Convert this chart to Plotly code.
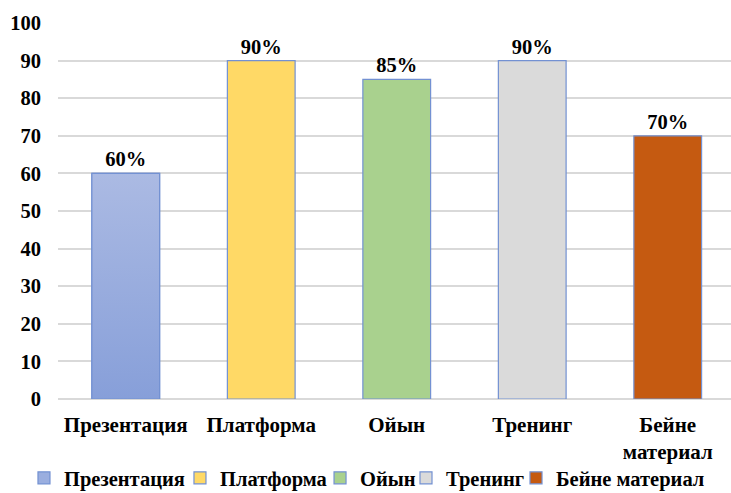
import plotly.graph_objects as go

categories = ["Презентация", "Платформа", "Ойын", "Тренинг", "Бейне материал"]
tick_labels = ["Презентация", "Платформа", "Ойын", "Тренинг", "Бейне<br>материал"]
values = [60, 90, 85, 90, 70]
colors = ["#9AAEDF", "#FFD966", "#A9D18E", "#DADADA", "#C55A11"]
# first column is shaded with a vertical gradient
gradient = [[0.0, "#879FD9"], [1.0, "#ABBAE3"]]
y_ticks = list(range(0, 101, 10))

FONT = "Liberation Serif"
OUTLINE = "#7391D2"
BAR_W = 0.5
# left edge (container fraction) of each one-entry legend
legend_x = [0.0328, 0.2462, 0.4378, 0.5554, 0.7059]

fig = go.Figure()
for i, (name, val, col) in enumerate(zip(categories, values, colors)):
    fig.add_trace(go.Bar(
        x=[i], y=[val], name=f"<b>{name}</b>",
        width=BAR_W,
        marker=dict(color=col, line=dict(color=OUTLINE, width=1.2)),
        texttemplate="<b>%{y}%</b>", textposition="outside",
        textfont=dict(family=FONT, size=20.5, color="#000000"),
        cliponaxis=False,
        legend="legend" if i == 0 else f"legend{i + 1}",
    ))

# gradient fill over the first column
x0 = 0
fig.add_trace(go.Scatter(
    x=[x0 - BAR_W / 2, x0 + BAR_W / 2, x0 + BAR_W / 2, x0 - BAR_W / 2, x0 - BAR_W / 2],
    y=[0, 0, values[0], values[0], 0],
    mode="lines", fill="toself",
    fillgradient=dict(type="vertical", colorscale=gradient),
    line=dict(color=OUTLINE, width=1.2),
    hoverinfo="skip", showlegend=False,
))

legends = {}
for i, lx in enumerate(legend_x):
    key = "legend" if i == 0 else f"legend{i + 1}"
    legends[key] = dict(
        orientation="h", xref="container", yref="container",
        x=lx, xanchor="left", y=1 - 478 / 493, yanchor="middle",
        font=dict(family=FONT, size=20.5, color="#000000"),
        itemwidth=30, bgcolor="rgba(0,0,0,0)",
    )

fig.update_layout(
    width=731, height=493,
    margin=dict(l=58, r=0, t=23, b=94, autoexpand=False),
    paper_bgcolor="white", plot_bgcolor="white",
    barmode="overlay",
    showlegend=True,
    font=dict(family=FONT, color="#000000"),
    **legends,
)
fig.update_xaxes(
    range=[-0.5, 4.467], tickvals=list(range(len(categories))),
    ticktext=[f"<b>{t}</b>" for t in tick_labels],
    tickfont=dict(family=FONT, size=21, color="#000000"),
    showgrid=False, zeroline=False, showline=False, ticks="", ticklabelstandoff=11,
)
fig.update_yaxes(
    range=[0, 100], tickvals=y_ticks,
    ticktext=[f"<b>{v}</b>" for v in y_ticks],
    tickfont=dict(family=FONT, size=20.5, color="#000000"),
    showgrid=True, gridcolor="#D9D9D9", gridwidth=1.5,
    zeroline=True, zerolinecolor="#D9D9D9", zerolinewidth=1.5,
    showline=False, ticks="", ticklabelstandoff=16,
)

fig.write_html("out.html")
